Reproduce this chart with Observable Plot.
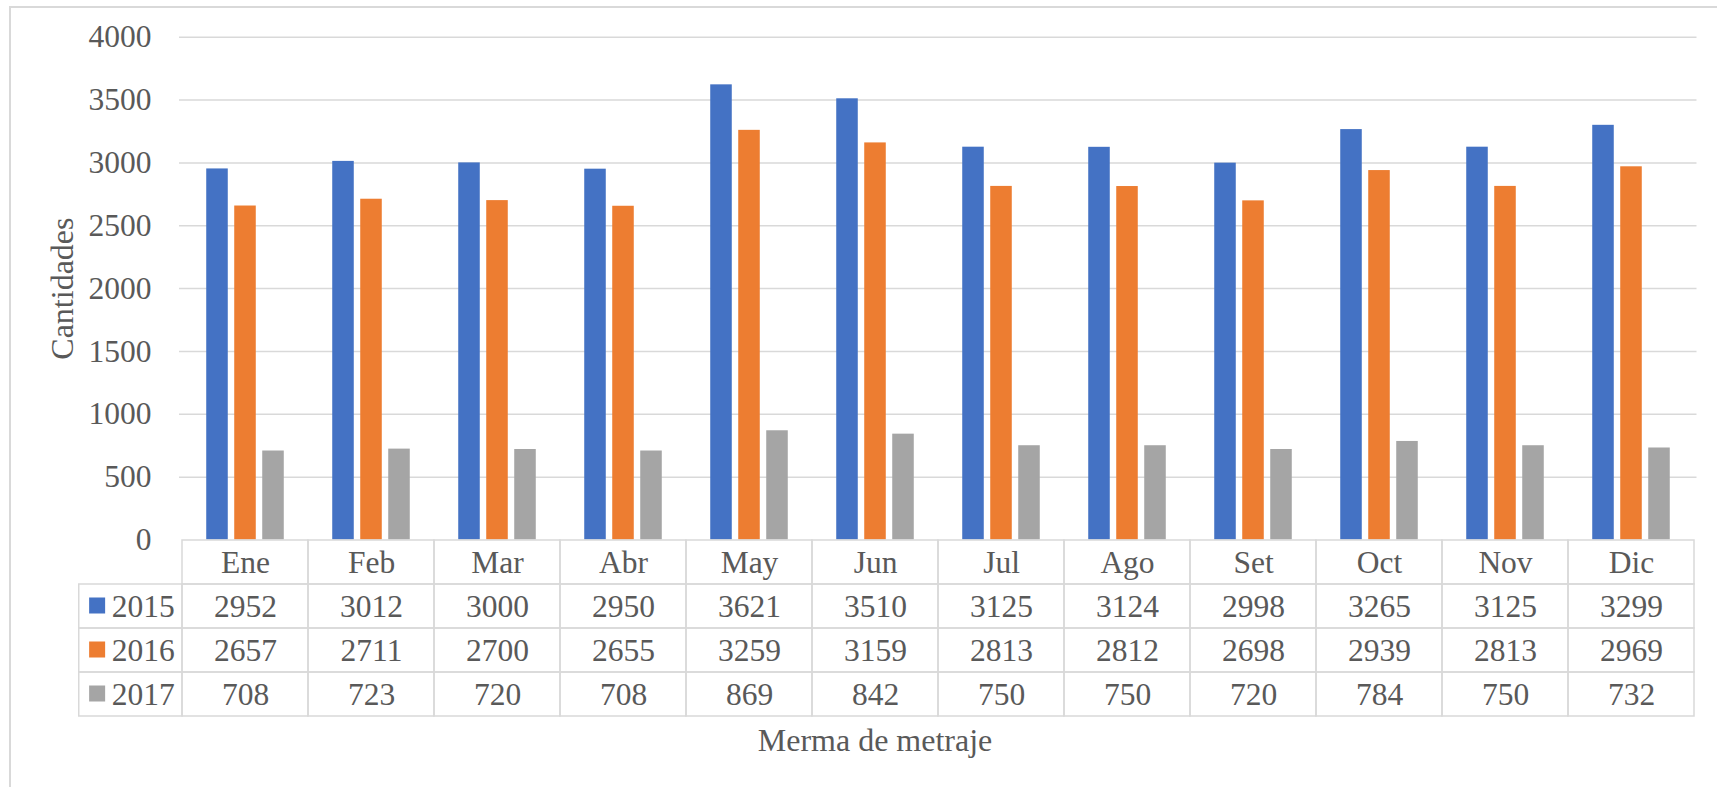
<!DOCTYPE html>
<html><head><meta charset="utf-8">
<script src="https://cdn.jsdelivr.net/npm/d3@7"></script>
<script src="https://cdn.jsdelivr.net/npm/@observablehq/plot@0.6"></script>
<style>
html,body{margin:0;padding:0;background:#fff;overflow:hidden;}
#wrap{position:relative;width:1717px;height:787px;overflow:hidden;}
#frame{position:absolute;left:9px;top:6px;width:2000px;height:2000px;border-left:2px solid #d9d9d9;border-top:2px solid #d9d9d9;}
#chart,#table{position:absolute;left:0;}
#chart{top:0;}
#table{top:539px;}
svg text{font-family:'Liberation Serif','Times New Roman',serif !important;font-variant:normal !important;font-variant-numeric:normal !important;}
</style></head><body>
<div id="wrap"><div id="frame"></div><div id="chart"></div><div id="table"></div></div>
<script>
const months = ["Ene","Feb","Mar","Abr","May","Jun","Jul","Ago","Set","Oct","Nov","Dic"];
const series = ["2015","2016","2017"];
const values2015 = [2952,3012,3000,2950,3621,3510,3125,3124,2998,3265,3125,3299];
const values2016 = [2657,2711,2700,2655,3259,3159,2813,2812,2698,2939,2813,2969];
const values2017 = [708,723,720,708,869,842,750,750,720,784,750,732];
const colors = ["#4472C4","#ED7D31","#A5A5A5"];
const yTicks = [0,500,1000,1500,2000,2500,3000,3500,4000];
const yLabel = "Cantidades";
const xLabel = "Merma de metraje";

const seriesValues = [values2015, values2016, values2017];
const rows = series.flatMap((s,i) => months.map((m,j) => ({month: m, year: s, value: seriesValues[i][j]})));

const W = 1717, ML = 179, MR = 20.5;
const bw = (W - ML - MR) / months.length;
const barW = 22, step = 28;
const textColor = "#595959", lineColor = "#d9d9d9";
const font = "'Liberation Serif','Times New Roman',serif";
const baseStyle = {fontFamily: font, fontSize: "31.5px", color: textColor, background: "transparent", overflow: "visible"};
const txt = {fontFamily: font, fontVariant: "normal"};

const chart = Plot.plot({
  width: W, height: 541, marginLeft: ML, marginRight: MR, marginTop: 36.7, marginBottom: 1.5,
  style: baseStyle,
  x: {domain: months, padding: 0, axis: null},
  y: {domain: [0, 4000], axis: null},
  color: {domain: series, range: colors},
  marks: [
    Plot.gridY(yTicks.filter(t => t > 0), {stroke: lineColor, strokeOpacity: 1, strokeWidth: 1.5}),
    Plot.axisY(yTicks, {tickSize: 0, tickPadding: 28, label: null, tickFormat: d => String(d), ...txt}),
    ...series.map((s, i) => Plot.barY(rows.filter(r => r.year === s), {
      x: "month", y: "value", fill: "year",
      insetLeft: (bw - barW) / 2, insetRight: (bw - barW) / 2, dx: (i - 1) * step
    })),
    Plot.text([yLabel], {frameAnchor: "left", textAnchor: "middle", lineAnchor: "middle", rotate: -90, dx: 62 - ML, fontSize: 32, ...txt})
  ]
});
document.getElementById("chart").append(chart);

const LEG = "__serie__";
const HEAD = "__mes__";
const tableRows = [HEAD, ...series];
const cellData = tableRows.flatMap(r => months.map(m => ({month: m, row: r})));
const legCenter = ML - bw / 2;
const TH = 248;

const table = Plot.plot({
  width: W, height: TH, marginLeft: ML - bw, marginRight: MR, marginTop: 0.5, marginBottom: TH - 176.8,
  style: baseStyle,
  x: {domain: [LEG, ...months], padding: 0, axis: null},
  y: {domain: tableRows, padding: 0, axis: null},
  color: {domain: series, range: colors},
  marks: [
    Plot.cell(cellData, {x: "month", y: "row", fill: "none", stroke: lineColor, strokeWidth: 1.5, inset: 0}),
    Plot.cell(series, {x: () => LEG, y: d => d, fill: "none", stroke: lineColor, strokeWidth: 1.5, inset: 0, insetLeft: 75.3 - (ML - bw)}),
    Plot.text(months, {x: d => d, y: () => HEAD, lineAnchor: "middle", ...txt}),
    Plot.text(rows, {x: "month", y: "year", text: d => String(d.value), lineAnchor: "middle", ...txt}),
    Plot.dot(series, {x: () => LEG, y: d => d, symbol: "square", r: 9.03, fill: d => d, dx: 93.4 - legCenter, dy: -1}),
    Plot.text(series, {x: () => LEG, y: d => d, textAnchor: "start", lineAnchor: "middle", dx: 108 - legCenter, ...txt}),
    Plot.text([xLabel], {frameAnchor: "bottom", textAnchor: "middle", lineAnchor: "middle", dy: 24.5, fontSize: 32, ...txt})
  ]
});
document.getElementById("table").append(table);
</script>
</body></html>
